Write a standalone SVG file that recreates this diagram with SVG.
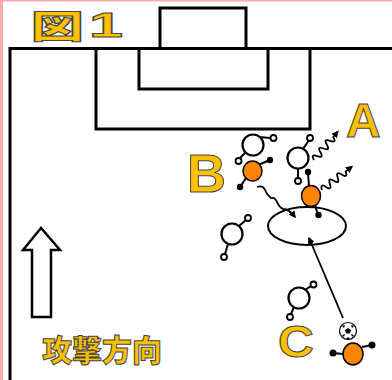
<svg xmlns="http://www.w3.org/2000/svg" width="392" height="380" viewBox="0 0 392 380">
<defs>
<style>
.field{fill:none;stroke:#000;stroke-width:3}
.wp{fill:#fff;stroke:#000;stroke-width:2.2}
.op{fill:#FF8400;stroke:#000;stroke-width:1.5}
.arm{fill:none;stroke:#000;stroke-width:2}
.hand{fill:#fff;stroke:#000;stroke-width:1.8}
.dot{fill:#000}
.lbl{font-family:"Liberation Sans",Arial,sans-serif;font-weight:bold;fill:#FFC000;stroke:#444;stroke-width:1}
.jp{font-family:"Noto Sans CJK JP","Noto Sans",sans-serif;font-weight:900;fill:#FFC000;stroke:#444;stroke-width:1}
.mv{fill:none;stroke:#000;stroke-width:1.8}
</style>
<marker id="ah" viewBox="0 0 10 10" refX="8" refY="5" markerWidth="4" markerHeight="4" orient="auto" markerUnits="strokeWidth">
<path d="M0,0 L10,5 L0,10 Z" fill="#000"/>
</marker>
</defs>
<rect x="0" y="0" width="392" height="380" fill="#fff"/>
<rect x="0" y="0" width="392" height="1.5" fill="#FFAAAA"/>
<rect x="0" y="0" width="3" height="380" fill="#FFAAAA"/>

<g id="field">
<path class="field" d="M10,380 V48.5 H392"/>
<rect class="field" x="96" y="48.5" width="214" height="80.5"/>
<rect class="field" x="139" y="48.5" width="129" height="40.5"/>
<rect class="field" x="160" y="8" width="86" height="40.5"/>
</g>

<g id="title">
<text class="jp" font-size="32" transform="translate(31,38) scale(1.65,1)">図</text>
<text class="lbl" font-size="36" transform="translate(89,37) scale(1.7,1)">1</text>
</g>

<g id="direction-arrow">
<polygon points="41,228 23,250 32,250 32,317 51,317 51,250 60,250" fill="#fff" stroke="#000" stroke-width="2.5" stroke-linejoin="miter"/>
<text class="jp" font-size="30" x="42" y="361">攻撃方向</text>
</g>

<g id="label-A"><text class="lbl" font-size="48" x="346" y="137">A</text></g>
<g id="label-B"><text class="lbl" font-size="54" x="187" y="192">B</text></g>
<g id="label-C"><text class="lbl" font-size="44" transform="translate(278,357) scale(1.13,1)">C</text></g>

<g id="zone"><ellipse cx="307" cy="226" rx="39" ry="19" fill="none" stroke="#000" stroke-width="2"/></g>

<g id="connectors">
<path class="mv" marker-end="url(#ah)" transform="translate(314,160) rotate(-50)" d="M0,0 q2.5,-7 5,0 t5,0 t5,0 t5,0 t5,0 t5,0 l7,0"/>
<path class="mv" marker-end="url(#ah)" transform="translate(322,190) rotate(-38)" d="M0,0 q2.5,-7 5,0 t5,0 t5,0 t5,0 t5,0 t5,0 l8,0"/>
<path class="mv" marker-end="url(#ah)" d="M257,187 q6,-2 8,3 t6,8 q4,-1 6,4 t6,7 q6,0 12,8"/>
<line class="mv" x1="343" y1="318" x2="309" y2="238" marker-end="url(#ah)"/>
</g>

<g id="white-1">
<path class="arm" d="M259,137 L270,138 M245,153 L240,158"/>
<circle class="wp" cx="253" cy="145" r="10.5"/>
<circle class="hand" cx="273.5" cy="138" r="3"/>
<circle class="hand" cx="238.5" cy="161" r="3"/>
</g>
<g id="orange-B">
<path class="arm" d="M258,165 L270,160 M246,178 L240,187"/>
<ellipse class="op" cx="252.5" cy="171" rx="9.5" ry="10"/>
<circle class="dot" cx="270" cy="160" r="3.2"/>
<circle class="dot" cx="240" cy="187" r="3.2"/>
</g>
<g id="white-2">
<path class="arm" d="M303,149 L309,140 M298,168 L298,178"/>
<circle class="wp" cx="298" cy="158" r="10.5"/>
<circle class="hand" cx="310" cy="138" r="3"/>
<circle class="hand" cx="298" cy="181" r="3"/>
</g>
<g id="orange-A">
<path class="arm" d="M309,186 L308,173 M315,205 L318,215"/>
<ellipse class="op" cx="311" cy="196" rx="9.5" ry="10.5"/>
<circle class="dot" cx="308" cy="172" r="3.2"/>
<circle class="dot" cx="318.5" cy="215" r="3.2"/>
</g>
<g id="white-3">
<path class="arm" d="M239,226 L246,220 M228,244 L225,254"/>
<circle class="wp" cx="232" cy="234" r="10.5"/>
<circle class="hand" cx="248" cy="218" r="3"/>
<circle class="hand" cx="224" cy="257" r="3"/>
</g>
<g id="white-4">
<path class="arm" d="M305,290 L311,286 M294,307 L291,314"/>
<circle class="wp" cx="299" cy="298" r="10.5"/>
<circle class="hand" cx="313.5" cy="284.5" r="3"/>
<circle class="hand" cx="290" cy="317" r="3"/>
</g>
<g id="ball">
<circle cx="348" cy="331" r="8.5" fill="#fff" stroke="#000" stroke-width="1.2"/>
<polygon points="348,328 351,330 350,333.5 346,333.5 345,330" fill="#000"/>
<path d="M342,326 l3,-1 l-1,3 Z M354,326 l-3,-1 l1,3 Z M342,335 l2,2 l1,-3 Z M354,335 l-2,2 l-1,-3 Z M346,339 h4 l-2,-2 Z" fill="#000"/>
</g>
<g id="orange-C">
<path class="arm" d="M343,354 L333,353 M362,347 L372,345"/>
<ellipse class="op" cx="353" cy="354" rx="10" ry="11"/>
<circle class="dot" cx="333" cy="353" r="3.5"/>
<circle class="dot" cx="372" cy="345" r="3.5"/>
</g>
</svg>
